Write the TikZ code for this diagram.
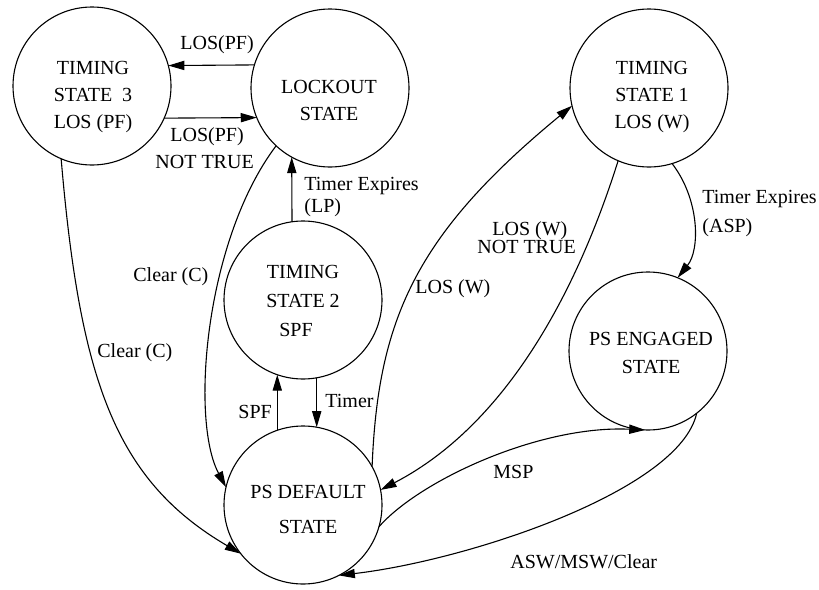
\documentclass[tikz,border=0pt]{standalone}
\usepackage{fontspec}
\setmainfont{Liberation Serif}
\usetikzlibrary{arrows.meta}
\begin{document}
\begin{tikzpicture}[x=0.5pt,y=-0.5pt,
  stnode/.style={circle,draw,line width=0.55pt,minimum size=79pt,inner sep=0pt,outer sep=0pt},
  sttext/.style={align=center,inner sep=0pt,font=\fontsize{10}{#1}\selectfont},
  sttext/.default=13.5,
  lbl/.style={anchor=base west,inner sep=0pt,font=\fontsize{10}{12}\selectfont},
  arr/.style={line width=0.55pt,-{Triangle[length=8pt,width=4.6pt]}}]
\useasboundingbox (0,0) rectangle (819,589);

% states
\node[stnode] (ts3) at (92,86) {};
\node[stnode] (lock) at (330,88) {};
\node[stnode] (ts1) at (649,88) {};
\node[stnode] (ts2) at (303,300) {};
\node[stnode] (eng) at (648,351) {};
\node[stnode] (def) at (303,505) {};

\node[sttext] (ts3t) at (93,97) {TIMING\\STATE\enspace3\\LOS (PF)};
\node[sttext] (lockt) at (329,100.5) {LOCKOUT\\STATE};
\node[sttext] (ts1t) at (652,97) {TIMING\\STATE 1\\LOS (W)};
\node[sttext=14.5] (ts2t) at (303,301) {TIMING\\STATE 2\\\hspace*{-7pt}SPF};
\node[sttext=14] (engt) at (651,353) {PS ENGAGED\\STATE};
\node[sttext=17.5] (deft) at (308,509.5) {PS DEFAULT\\STATE};

% transitions
\draw[arr] (lock.163) -- (ts3.15);
\draw[arr] (ts3.-24) -- (lock.202);
\draw[arr] (ts2.98) -- (lock.241);
\draw[arr] (def.109) -- (ts2.251);
\draw[arr] (ts2.280) -- (def.80);
\draw[arr] (ts3.247) .. controls (80,380) and (115,480) .. (def.218);
\draw[arr] (lock.227) .. controls (205,240) and (190,420) .. (def.167);
\draw[arr] (def.29) .. controls (378,320) and (415,235) .. (ts1.193);
\draw[arr] (ts1.247) .. controls (590,250) and (525,415) .. (def.11);
\draw[arr] (ts1.287) .. controls (700,200) and (700,250) .. (eng.68);
\draw[arr] (def.344) .. controls (420,480) and (540,425) .. (eng.268);
\draw[arr] (eng.308) .. controls (680,490) and (470,560) .. (def.297);

% transition labels
\node[lbl] (a1) at (180,49) {LOS(PF)};
\node[lbl] (a2) at (170,141) {LOS(PF)};
\node[lbl] (a3) at (155,168) {NOT TRUE};
\node[lbl] (a4) at (304,190) {Timer Expires};
\node[lbl] (a5) at (304,212) {(LP)};
\node[lbl] (a6) at (133,281) {Clear (C)};
\node[lbl] (a7) at (97,357) {Clear (C)};
\node[lbl] (a8) at (238,418) {SPF};
\node[lbl] (a9) at (325,407) {Timer};
\node[lbl] (a10) at (415,293) {LOS (W)};
\node[lbl] (a11) at (492,235) {LOS (W)};
\node[lbl] (a12) at (477,253) {NOT TRUE};
\node[lbl] (a13) at (702,203) {Timer Expires};
\node[lbl] (a14) at (702,232) {(ASP)};
\node[lbl] (a15) at (493,478) {MSP};
\node[lbl] (a16) at (510,568) {ASW/MSW/Clear};
\end{tikzpicture}
\end{document}
